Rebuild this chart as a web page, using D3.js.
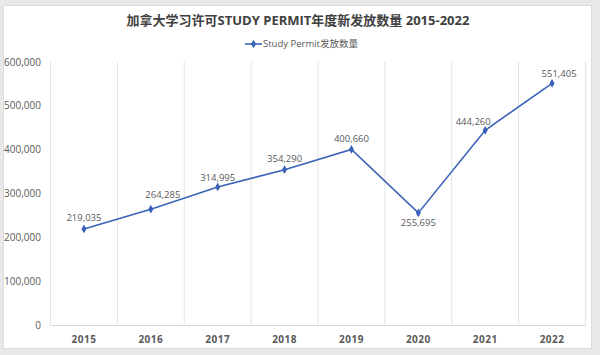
<!DOCTYPE html>
<html><head><meta charset="utf-8">
<script src="https://cdn.jsdelivr.net/npm/d3@7"></script>
<style>
body{margin:0;background:#e8e8e8;}
svg{display:block;font-family:"Open Sans","Noto Sans CJK SC",sans-serif;}
</style></head><body>
<svg id="c" width="600" height="355"></svg>
<script>
const years = ["2015","2016","2017","2018","2019","2020","2021","2022"];
const permits = [219035, 264285, 314995, 354290, 400660, 255695, 444260, 551405];
const yTicks = [0,100000,200000,300000,400000,500000,600000];
const title = "加拿大学习许可STUDY PERMIT年度新发放数量 2015-2022";
const seriesName = "Study Permit发放数量";

// label layout offsets (pixels, relative to point)
const labelDx = [0, 12, 0, 0, 0, 0, -12, 7];
const labelDy = [-11, -14, -9, -11, -11, 10, -9, -10];

const svg = d3.select("#c");
svg.append("rect").attr("x",3.5).attr("y",5.5).attr("width",588).attr("height",343)
  .attr("fill","#fff").attr("stroke","#dcdcdc");

const m = {l:50.5, r:585.5, t:62, b:325};
const x = d3.scaleBand().domain(years).range([m.l,m.r]);
const y = d3.scaleLinear().domain([0,600000]).range([m.b,m.t]);

const bounds = years.map(d=>x(d)).concat([x(years[years.length-1])+x.bandwidth()]);
svg.append("g").selectAll("line").data(bounds).join("line")
  .attr("x1",d=>d).attr("x2",d=>d).attr("y1",m.t).attr("y2",m.b)
  .attr("stroke","#e3e3e3").attr("stroke-width",1);

svg.append("line").attr("x1",m.l).attr("x2",m.r).attr("y1",m.b+0.5).attr("y2",m.b+0.5)
  .attr("stroke","#d9d9d9");

const fmt = d3.format(",");
svg.append("g").selectAll("text").data(yTicks).join("text")
  .attr("x",41).attr("y",d=>y(d)).attr("dy","0.35em").attr("text-anchor","end")
  .attr("font-size",10).attr("fill","#595959").text(d=>fmt(d));

svg.append("g").selectAll("text").data(years).join("text")
  .attr("x",d=>x(d)+x.bandwidth()/2).attr("y",339).attr("dy","0.35em").attr("text-anchor","middle")
  .attr("font-size",10).attr("font-weight","bold").attr("letter-spacing","0.5").attr("fill","#595959").text(d=>d);

const cx = d=>x(d)+x.bandwidth()/2;
const line = d3.line().x((d,i)=>cx(years[i])).y(d=>y(d));
svg.append("path").datum(permits).attr("d",line).attr("fill","none")
  .attr("stroke","#3a62b8").attr("stroke-width",1.6);

const diamond = d3.symbol().type(d3.symbolDiamond).size(22);
svg.append("g").selectAll("path").data(permits).join("path")
  .attr("transform",(d,i)=>`translate(${cx(years[i])},${y(d)})`).attr("d",diamond).attr("fill","#3a62b8");

svg.append("g").selectAll("text").data(permits).join("text")
  .attr("x",(d,i)=>cx(years[i])+labelDx[i]).attr("y",(d,i)=> y(d)+labelDy[i])
  .attr("dy","0.35em").attr("text-anchor","middle")
  .attr("font-size",9.5).attr("fill","#595959").text(d=>fmt(d));

svg.append("text").attr("x",298).attr("y",20).attr("dy","0.35em").attr("text-anchor","middle")
  .attr("font-size",13).attr("font-weight","bold").attr("fill","#404040").text(title);

svg.append("line").attr("x1",245).attr("x2",262).attr("y1",44).attr("y2",44)
  .attr("stroke","#3a62b8").attr("stroke-width",1.6);
svg.append("path").attr("transform","translate(253.5,44)").attr("d",diamond).attr("fill","#3a62b8");
svg.append("text").attr("x",263).attr("y",44).attr("dy","0.35em")
  .attr("font-size",9.5).attr("fill","#595959").text(seriesName);
</script>
</body></html>
